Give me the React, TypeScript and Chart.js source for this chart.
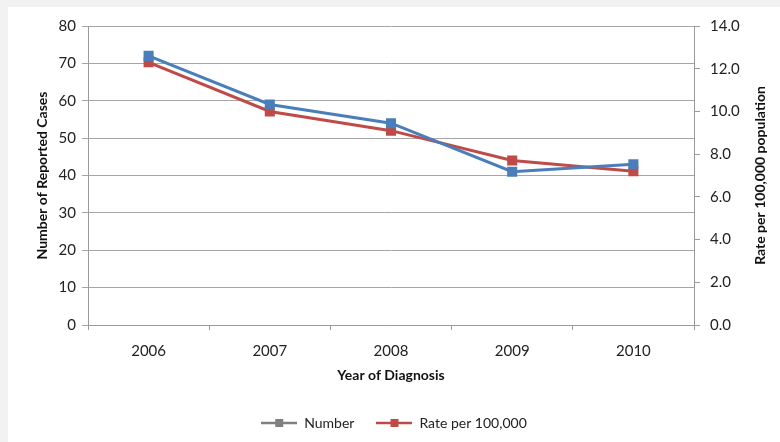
import React, { useEffect, useRef } from "react";
import { Chart, registerables } from "chart.js";

Chart.register(...registerables);

const years = ["2006", "2007", "2008", "2009", "2010"];
const numberCases = [72, 59, 54, 41, 43];
const ratePer100k = [12.3, 10.0, 9.1, 7.7, 7.2];
const leftTicksMax = 80;
const rightTicksMax = 14;
const rightTitle = "Rate per 100,000 population";

const BLUE = "#4a7ebb";
const RED = "#be4b48";
const GREY_LEGEND = "#808080";
const FONT = "Lato, 'Open Sans', sans-serif";

function legendImage(color: string): HTMLCanvasElement {
  const c = document.createElement("canvas");
  c.width = 36;
  c.height = 10;
  const ctx = c.getContext("2d")!;
  ctx.strokeStyle = color;
  ctx.lineWidth = 2.5;
  ctx.beginPath();
  ctx.moveTo(0, 5);
  ctx.lineTo(36, 5);
  ctx.stroke();
  ctx.fillStyle = color;
  ctx.fillRect(14, 1, 8, 8);
  return c;
}

const rightTitlePlugin = {
  id: "rightTitle",
  afterDraw(chart: any) {
    const s = chart.scales.y1;
    const ctx = chart.ctx;
    ctx.save();
    ctx.translate(s.right - 20, (s.top + s.bottom) / 2);
    ctx.rotate(-Math.PI / 2);
    ctx.font = `bold 14px ${FONT}`;
    ctx.fillStyle = "#111";
    ctx.textAlign = "center";
    ctx.textBaseline = "middle";
    ctx.fillText(rightTitle, 0, 0);
    ctx.restore();
  },
};

export default function App() {
  const ref = useRef<HTMLCanvasElement | null>(null);

  useEffect(() => {
    document.body.style.margin = "0";
    const canvas = ref.current!;
    const imgs = [legendImage(GREY_LEGEND), legendImage(RED)];
    const chart = new Chart(canvas, {
      type: "line",
      data: {
        labels: years,
        datasets: [
          {
            label: "Number",
            data: numberCases,
            borderColor: BLUE,
            backgroundColor: BLUE,
            borderWidth: 3,
            pointStyle: "rect",
            pointRadius: 5,
            pointBackgroundColor: BLUE,
            pointBorderColor: BLUE,
            yAxisID: "y",
            tension: 0,
          },
          {
            label: "Rate per 100,000",
            data: ratePer100k,
            borderColor: RED,
            backgroundColor: RED,
            borderWidth: 3,
            pointStyle: "rect",
            pointRadius: 5,
            pointBackgroundColor: RED,
            pointBorderColor: RED,
            yAxisID: "y1",
            tension: 0,
          },
        ],
      },
      plugins: [rightTitlePlugin],
      options: {
        animation: false,
        responsive: false,
        maintainAspectRatio: false,
        layout: { padding: { top: 19, left: 0, right: 0, bottom: 2 } },
        plugins: {
          tooltip: { enabled: false },
          legend: {
            position: "bottom",
            labels: {
              usePointStyle: true,
              pointStyleWidth: 36,
              padding: 22,
              color: "#222",
              font: { family: FONT, size: 14 },
              generateLabels: (ch: any) =>
                ch.data.datasets.map((ds: any, i: number) => ({
                  text: ds.label,
                  pointStyle: imgs[i],
                  fillStyle: "transparent",
                  strokeStyle: "transparent",
                  lineWidth: 0,
                  hidden: false,
                  datasetIndex: i,
                  fontColor: "#222",
                })),
            },
          },
        },
        scales: {
          x: {
            offset: true,
            grid: {
              display: true,
              offset: true,
              drawOnChartArea: false,
              drawTicks: true,
              tickLength: 5,
              color: "#9a9a9a",
            },
            border: { display: true, color: "#9a9a9a", width: 1 },
            ticks: {
              color: "#222",
              padding: 12,
              font: { family: FONT, size: 15 },
            },
            title: {
              display: true,
              text: "Year of Diagnosis",
              color: "#111",
              font: { family: FONT, size: 14, weight: "bold" },
              padding: { top: 6, bottom: 10 },
            },
            afterFit: (s: any) => {
              s.height = 69;
            },
          },
          y: {
            position: "left",
            min: 0,
            max: leftTicksMax,
            ticks: {
              stepSize: 10,
              color: "#222",
              padding: 6,
              font: { family: FONT, size: 15 },
            },
            grid: {
              color: "#a6a6a6",
              tickLength: 6,
              lineWidth: 1,
            },
            border: { display: true, color: "#9a9a9a" },
            title: {
              display: true,
              text: "Number of Reported Cases",
              color: "#111",
              font: { family: FONT, size: 14, weight: "bold" },
              padding: { top: 26, bottom: 0 },
            },
            afterFit: (s: any) => {
              s.width = 80;
            },
          },
          y1: {
            position: "right",
            min: 0,
            max: rightTicksMax,
            ticks: {
              stepSize: 2,
              color: "#222",
              padding: 10,
              font: { family: FONT, size: 15 },
              callback: (v: any) => Number(v).toFixed(1),
            },
            grid: {
              drawOnChartArea: false,
              color: "#9a9a9a",
              tickLength: 6,
            },
            border: { display: true, color: "#9a9a9a" },
            title: { display: false },
            afterFit: (s: any) => {
              s.width = 86;
            },
          },
        },
      },
    });
    return () => chart.destroy();
  }, []);

  return (
    <div style={{ width: 780, height: 442, background: "#f2f2f2", position: "relative" }}>
      <div
        style={{
          position: "absolute",
          left: 8,
          top: 7,
          width: 772,
          height: 435,
          background: "#ffffff",
        }}
      >
        <canvas ref={ref} width={772} height={435} style={{ display: "block" }} />
      </div>
    </div>
  );
}
